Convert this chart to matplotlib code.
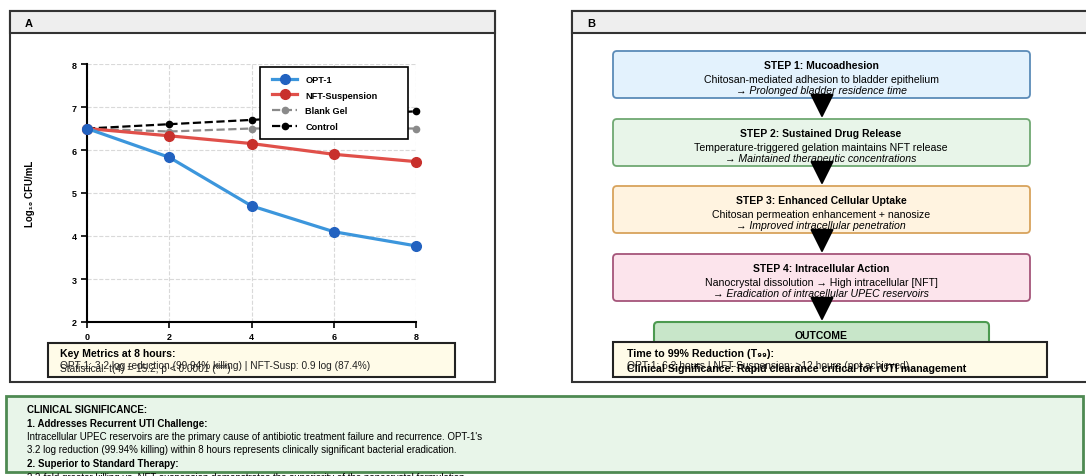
import matplotlib
matplotlib.use("Agg")
import matplotlib.pyplot as plt
from matplotlib.patches import Rectangle, FancyBboxPatch, FancyArrowPatch

plt.rcParams['font.family'] = ['Liberation Sans', 'DejaVu Sans']

# time-kill data (log10 CFU/mL)
hours = [0, 2, 4, 6, 8]
opt1 = [6.5, 5.83, 4.7, 4.1, 3.77]
nft_susp = [6.5, 6.33, 6.15, 5.9, 5.73]
blank_gel = [6.5, 6.43, 6.5, 6.5, 6.5]
control = [6.5, 6.6, 6.7, 6.8, 6.9]

series_names = ['OPT-1', 'NFT-Suspension', 'Blank Gel', 'Control']

steps = [
    ("STEP 1: Mucoadhesion", "Chitosan-mediated adhesion to bladder epithelium",
     "\u2192 Prolonged bladder residence time"),
    ("STEP 2: Sustained Drug Release", "Temperature-triggered gelation maintains NFT release",
     "\u2192 Maintained therapeutic concentrations"),
    ("STEP 3: Enhanced Cellular Uptake", "Chitosan permeation enhancement + nanosize",
     "\u2192 Improved intracellular penetration"),
    ("STEP 4: Intracellular Action", "Nanocrystal dissolution \u2192 High intracellular [NFT]",
     "\u2192 Eradication of intracellular UPEC reservoirs"),
]
step_fill = ['#e3f2fd', '#e8f5e9', '#fff3e0', '#fce4ec']
step_edge = ['#5a8bb8', '#6fa872', '#d8a35c', '#a5557a']

W, H = 1086, 477
fig = plt.figure(figsize=(W / 100, H / 100), dpi=100)

# full-figure axes in pixel units for frames, boxes and notes
deco = fig.add_axes([0, 0, 1, 1])
deco.set_xlim(0, W)
deco.set_ylim(H, 0)
deco.axis('off')
deco.set_zorder(0)

def panel_frame(x0, x1, label):
    deco.add_patch(Rectangle((x0, 12), x1 - x0, 371, facecolor='white',
                             edgecolor='#333333', lw=1.5))
    deco.add_patch(Rectangle((x0, 12), x1 - x0, 22, facecolor='#eeeeee',
                             edgecolor='#333333', lw=1.5))
    deco.text(x0 + 15, 24, label, fontsize=8, fontweight='bold', va='center')

panel_frame(10, 495, 'A')
panel_frame(572, 1100, 'B')

# ---- panel A: time-kill curves ----
ax = fig.add_axes([87 / W, (H - 323) / H, 329 / W, 258 / H])
ax.set_zorder(2)
ax.plot(hours, opt1, '-o', color='#3c96dc', mfc='#2262c0', mec='#2262c0',
        lw=2.3, ms=7, clip_on=False, label=series_names[0], zorder=5)
ax.plot(hours, nft_susp, '-o', color='#e0504a', mfc='#c8302c', mec='#c8302c',
        lw=2.3, ms=7, clip_on=False, label=series_names[1], zorder=4)
ax.plot(hours, blank_gel, '--o', color='#8a8a8a', lw=1.6, ms=4.5,
        clip_on=False, label=series_names[2], zorder=3)
ax.plot(hours, control, '--o', color='black', lw=1.6, ms=4.5,
        clip_on=False, label=series_names[3], zorder=3)
ax.set_xlim(0, 8)
ax.set_ylim(2, 8)
ax.set_xticks([0, 2, 4, 6, 8])
ax.set_yticks([2, 3, 4, 5, 6, 7, 8])
ax.grid(True, ls='--', color='#d9d9d9', lw=0.8)
for s in ['top', 'right']:
    ax.spines[s].set_visible(False)
for s in ['left', 'bottom']:
    ax.spines[s].set_linewidth(1.5)
ax.tick_params(labelsize=6.5, width=1.2, length=4)
for lab in ax.get_xticklabels() + ax.get_yticklabels():
    lab.set_fontweight('bold')
ax.set_ylabel('Log\u2081\u2080 CFU/mL', fontsize=7, fontweight='bold', labelpad=26)

# legend frame drawn separately so it can be wider than its entries
ax.add_patch(Rectangle((0.526, 0.709), 0.450, 0.279, transform=ax.transAxes,
                       facecolor='white', edgecolor='black', lw=1.2,
                       zorder=6, clip_on=False))
leg = ax.legend(loc='upper left', bbox_to_anchor=(0.563, 0.958), fontsize=6.6,
                frameon=False, handlelength=2.7, handletextpad=0.9,
                borderpad=0, labelspacing=0.74, borderaxespad=0)
leg.set_zorder(7)
for t in leg.get_texts():
    t.set_fontweight('bold')

# key metrics box
deco.add_patch(Rectangle((48, 344), 407, 34, facecolor='#fffbe8',
                         edgecolor='#222222', lw=1.5, zorder=3))
deco.text(60, 354, 'Key Metrics at 8 hours:', fontsize=7.6, fontweight='bold',
          va='center', zorder=4)
deco.text(60, 366, 'OPT-1: 3.2 log reduction (99.94% killing) | NFT-Susp: 0.9 log (87.4%)',
          fontsize=7.3, va='center', color='#222222', zorder=4)
deco.text(60, 369, 'Statistical: t(4) = 15.2, p < 0.0001 (***)',
          fontsize=7.3, va='center', color='#222222', zorder=4)

# ---- panel B: mechanism flow ----
step_tops = [52, 120, 187, 255]
for i, (title, line1, line2) in enumerate(steps):
    top = step_tops[i]
    deco.add_patch(FancyBboxPatch((613, top), 417, 47,
                                  boxstyle='round,pad=0,rounding_size=4',
                                  facecolor=step_fill[i], edgecolor=step_edge[i],
                                  lw=1.3, zorder=2))
    cx = 821
    deco.text(cx, top + 14, title, fontsize=7.5, fontweight='bold',
              ha='center', va='center', zorder=3)
    deco.text(cx, top + 28, line1, fontsize=7.6, ha='center', va='center', zorder=3)
    deco.text(cx, top + 39, line2, fontsize=7.6, style='italic',
              ha='center', va='center', zorder=3)
    nxt = step_tops[i + 1] if i + 1 < len(step_tops) else 323
    deco.add_patch(FancyArrowPatch((822, top + 47), (822, nxt - 1),
                                   arrowstyle='-|>,head_length=10,head_width=5',
                                   mutation_scale=1.5, color='black', lw=1.5,
                                   shrinkA=0, shrinkB=0, zorder=2))

deco.add_patch(FancyBboxPatch((654, 323), 335, 40,
                              boxstyle='round,pad=0,rounding_size=4',
                              facecolor='#c8e6c9', edgecolor='#4c9a50',
                              lw=1.5, zorder=2))
deco.text(821, 336, 'OUTCOME', fontsize=7.5, fontweight='bold',
          ha='center', va='center', zorder=3)

deco.add_patch(Rectangle((613, 343), 434, 35, facecolor='#fffbe8',
                         edgecolor='#222222', lw=1.5, zorder=4))
deco.text(627, 354, 'Time to 99% Reduction (T\u2089\u2089):', fontsize=7.7,
          fontweight='bold', va='center', zorder=5)
deco.text(627, 366, 'OPT-1: 6.2 hours | NFT-Suspension: >12 hours (not achieved)',
          fontsize=7.4, va='center', color='#222222', zorder=5)
deco.text(627, 369, 'Clinical Significance: Rapid clearance critical for rUTI management',
          fontsize=7.7, fontweight='bold', va='center', zorder=5)

# ---- clinical significance notes ----
deco.add_patch(Rectangle((6, 397), 1077, 76, facecolor='#e8f5e9',
                         edgecolor='#4e8a52', lw=2, zorder=1))
notes = [
    ('CLINICAL SIGNIFICANCE:', 'bold', 410),
    ('1. Addresses Recurrent UTI Challenge:', 'bold', 424),
    ("Intracellular UPEC reservoirs are the primary cause of antibiotic treatment failure and recurrence. OPT-1's",
     'normal', 437),
    ('3.2 log reduction (99.94% killing) within 8 hours represents clinically significant bacterial eradication.',
     'normal', 450),
    ('2. Superior to Standard Therapy:', 'bold', 464),
    ('2.2-fold greater killing vs. NFT-suspension demonstrates the superiority of the nanocrystal formulation.',
     'normal', 478),
]
for txt, wt, y in notes:
    deco.text(27, y, txt, fontsize=7, fontweight=wt, va='center', zorder=2)

fig.savefig('out.png', dpi=100)
